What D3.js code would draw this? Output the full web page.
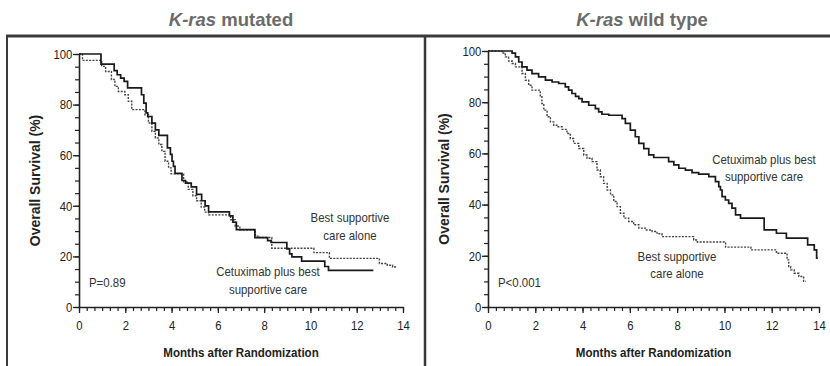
<!DOCTYPE html>
<html><head><meta charset="utf-8">
<script src="https://cdn.jsdelivr.net/npm/d3@7"></script>
<style>
html,body{margin:0;padding:0;background:#fff;}
svg{display:block;}
</style></head>
<body>
<svg id="chart" width="830" height="366"></svg>
<script>
// ---------- DATA ----------
const xTickLabels = [0, 2, 4, 6, 8, 10, 12, 14];
const yTickLabels = [0, 20, 40, 60, 80, 100];
const panelTitles = ["mutated", "wild type"];
const pValues = ["P=0.89", "P<0.001"];

// Kaplan-Meier steps: [month, survival %] (survival becomes value at month)
const mutCetuximab = [[0,100],[0.95,96],[1.52,93.4],[1.65,91.8],[1.8,90.5],[1.95,89.2],[2.1,86.6],[2.7,83.9],[2.8,80.6],[2.9,76.7],[2.97,75.3],[3.15,72.7],[3.3,70],[3.45,67.8],[3.82,62.9],[3.95,60.3],[4.02,57.6],[4.08,55.6],[4.15,52.8],[4.45,50],[4.6,49],[4.85,47.5],[5.08,44.5],[5.3,42],[5.45,40],[5.6,37.6],[6.5,36],[6.65,33.5],[6.8,30.6],[7.6,27.4],[8.15,26.2],[8.3,25.5],[8.98,23],[9.1,21],[9.2,19.8],[9.62,18.1],[10.62,16],[10.78,14.5],[12.72,14.5]];
const mutBSC = [[0,100],[0.15,97.5],[0.98,95.1],[1.15,93.1],[1.4,89.9],[1.55,87.2],[1.7,85.2],[1.98,83.9],[2.13,81.3],[2.28,78],[2.85,76],[3.0,72.7],[3.15,69.4],[3.3,66.8],[3.45,64.2],[3.58,61.5],[3.72,57.6],[3.87,55],[3.98,52.6],[4.52,49.5],[4.72,46.5],[4.92,44],[5.08,42],[5.28,39.5],[5.43,37.5],[5.6,36.4],[6.55,34.5],[6.75,32],[6.95,30.4],[7.62,28],[7.8,27.5],[8.33,23.2],[10.15,21.5],[10.82,19.2],[12.98,17.2],[13.32,16.5],[13.55,15.8],[13.72,15.8]];
const wtCetuximab = [[0,100],[1.02,99.2],[1.16,97.7],[1.3,95.7],[1.44,93.8],[1.65,92.5],[1.86,91.2],[2.14,89.9],[2.43,88.6],[2.71,87.9],[2.99,87.3],[3.27,86],[3.41,84.7],[3.55,83.4],[3.7,82.3],[3.84,81.4],[3.98,80.1],[4.26,78.8],[4.54,77.5],[4.68,76.2],[4.82,75.3],[5.11,74.9],[5.67,73.6],[5.81,71.7],[6.02,69.1],[6.23,66.5],[6.38,63.9],[6.59,61.9],[6.8,59.4],[7.01,58.4],[7.64,56.8],[7.86,55.5],[8.07,54.2],[8.35,53.5],[8.63,52.5],[8.91,51.9],[9.34,50.9],[9.62,49],[9.76,47],[9.83,45.7],[9.9,43.1],[10.04,41.8],[10.18,40.5],[10.32,38.6],[10.47,36],[10.68,34.7],[11.68,30.1],[12.2,28.8],[12.62,26.9],[13.52,24.3],[13.8,22.3],[13.9,19.1],[13.95,19.1]];
const wtBSC = [[0,100],[0.59,99.2],[0.73,97.7],[0.87,96.1],[1.02,95.1],[1.16,93.8],[1.44,91.2],[1.58,88.6],[1.72,86.6],[1.86,84.7],[2.21,82.1],[2.28,79.5],[2.36,76.9],[2.5,74.3],[2.64,72.3],[2.78,71],[2.92,70.4],[3.13,69.4],[3.34,67.8],[3.48,65.8],[3.62,63.9],[3.84,61.9],[4.05,59.4],[4.19,58.1],[4.4,56.8],[4.61,53.5],[4.75,50.9],[4.89,48.3],[5.04,45.7],[5.18,43.8],[5.32,41.2],[5.46,39.2],[5.6,36.6],[5.75,34.7],[5.95,33.4],[6.16,32.1],[6.38,30.8],[6.66,30.1],[6.94,29.5],[7.15,28.6],[7.36,27.5],[8.7,26.2],[8.85,25.4],[10.05,23.4],[11.12,22.3],[12.2,21],[12.65,18.4],[12.72,15.8],[12.8,14.5],[12.95,13.2],[13.15,11.9],[13.35,10],[13.45,10]];

const mutLabels = [["Best supportive", "care alone"], ["Cetuximab plus best", "supportive care"]];
const wtLabels = [["Cetuximab plus best", "supportive care"], ["Best supportive", "care alone"]];

// ---------- LAYOUT ----------
const svg = d3.select("#chart");
const FONT = "'Liberation Sans',Arial,sans-serif";
const INK = "#222";

function ctext(x, y, str, opts) {
  const o = Object.assign({size: 13, k: 0.88, weight: "normal", anchor: "middle", fill: "#333", rot: 0}, opts || {});
  return svg.append("text")
    .attr("transform", `translate(${x},${y}) rotate(${o.rot}) scale(${o.k},1)`)
    .attr("text-anchor", o.anchor).attr("font-family", FONT)
    .attr("font-size", o.size).attr("font-weight", o.weight).attr("fill", o.fill).text(str);
}

const panels = [
  {title: panelTitles[0], p: pValues[0], left: 79, right: 403, top: 54, bottom: 307,
   cet: mutCetuximab, bsc: mutBSC, titleX: 231, pX: 89,
   labels: [{lines: mutLabels[0], x: 350, y: 222, dy: 18}, {lines: mutLabels[1], x: 268, y: 276, dy: 18}]},
  {title: panelTitles[1], p: pValues[1], left: 488, right: 819, top: 51, bottom: 307,
   cet: wtCetuximab, bsc: wtBSC, titleX: 642, pX: 498,
   labels: [{lines: wtLabels[0], x: 764, y: 163.5, dy: 17.5}, {lines: wtLabels[1], x: 677, y: 261, dy: 17}]}
];

// frame
svg.append("line").attr("x1", 6).attr("x2", 830).attr("y1", 36).attr("y2", 36)
  .attr("stroke", "#3a3a3a").attr("stroke-width", 3);
svg.append("line").attr("x1", 7).attr("x2", 7).attr("y1", 35).attr("y2", 366)
  .attr("stroke", "#3a3a3a").attr("stroke-width", 2);
svg.append("line").attr("x1", 425).attr("x2", 425).attr("y1", 35).attr("y2", 366)
  .attr("stroke", "#3a3a3a").attr("stroke-width", 2.5);

panels.forEach(pn => {
  const x = d3.scaleLinear().domain([0, 14]).range([pn.left, pn.right]);
  const y = d3.scaleLinear().domain([0, 100]).range([pn.bottom, pn.top]);
  const g = svg.append("g");

  // title
  const t = svg.append("text").attr("x", pn.titleX).attr("y", 26)
    .attr("text-anchor", "middle").attr("fill", "#6b6b6b")
    .attr("font-family", FONT).attr("font-weight", "bold").attr("font-size", 18.5);
  t.append("tspan").attr("font-style", "italic").text("K-ras");
  t.append("tspan").text(" " + pn.title);

  // minor x ticks
  g.append("g").attr("transform", `translate(0,${pn.bottom})`)
    .call(d3.axisBottom(x).tickValues(d3.range(0, 43).map(i => i / 3)).tickSize(4).tickFormat(""))
    .call(a => a.select(".domain").remove())
    .call(a => a.selectAll("line").attr("stroke", INK).attr("stroke-width", 1.2));
  // major x
  g.append("g").attr("transform", `translate(0,${pn.bottom})`)
    .call(d3.axisBottom(x).tickValues(xTickLabels).tickSize(6).tickSizeOuter(0).tickPadding(7))
    .call(a => a.select(".domain").attr("stroke", INK).attr("stroke-width", 1.6))
    .call(a => a.selectAll("line").attr("stroke", INK).attr("stroke-width", 1.3))
    .call(a => a.selectAll("text").attr("font-family", FONT).attr("font-size", 13.5)
      .attr("fill", INK).attr("transform", "scale(0.84,1)"));
  // minor y
  g.append("g").attr("transform", `translate(${pn.left},0)`)
    .call(d3.axisLeft(y).tickValues(d3.range(0, 101, 5)).tickSize(4).tickFormat(""))
    .call(a => a.select(".domain").remove())
    .call(a => a.selectAll("line").attr("stroke", INK).attr("stroke-width", 1.2));
  g.append("g").attr("transform", `translate(${pn.left},0)`)
    .call(d3.axisLeft(y).tickValues(yTickLabels).tickSize(6).tickSizeOuter(0).tickPadding(2))
    .call(a => a.select(".domain").attr("stroke", INK).attr("stroke-width", 1.6))
    .call(a => a.selectAll("line").attr("stroke", INK).attr("stroke-width", 1.3))
    .call(a => a.selectAll("text").attr("font-family", FONT).attr("font-size", 13.5)
      .attr("fill", INK).attr("transform", "scale(0.84,1)"));

  // axis titles
  ctext((pn.left + pn.right) / 2, 357, "Months after Randomization", {size: 13, k: 0.89, weight: "bold", fill: INK});
  ctext(pn.left - 39, (pn.top + pn.bottom) / 2, "Overall Survival (%)", {size: 14, k: 1.0, weight: "bold", fill: INK, rot: -90});

  // curves
  const line = d3.line().x(d => x(d[0])).y(d => y(d[1])).curve(d3.curveStepAfter);
  g.append("path").datum(pn.bsc).attr("d", line).attr("fill", "none")
    .attr("stroke", "#444").attr("stroke-width", 1.4).attr("stroke-dasharray", "2,1.3");
  g.append("path").datum(pn.cet).attr("d", line).attr("fill", "none")
    .attr("stroke", "#1a1a1a").attr("stroke-width", 1.7);

  // labels
  pn.labels.forEach(lb => {
    lb.lines.forEach((s, i) => ctext(lb.x, lb.y + i * lb.dy, s, {size: 13, k: 0.88}));
  });
  ctext(pn.pX, 287, pn.p, {size: 13, k: 0.88, anchor: "start"});
});
</script>
</body></html>
